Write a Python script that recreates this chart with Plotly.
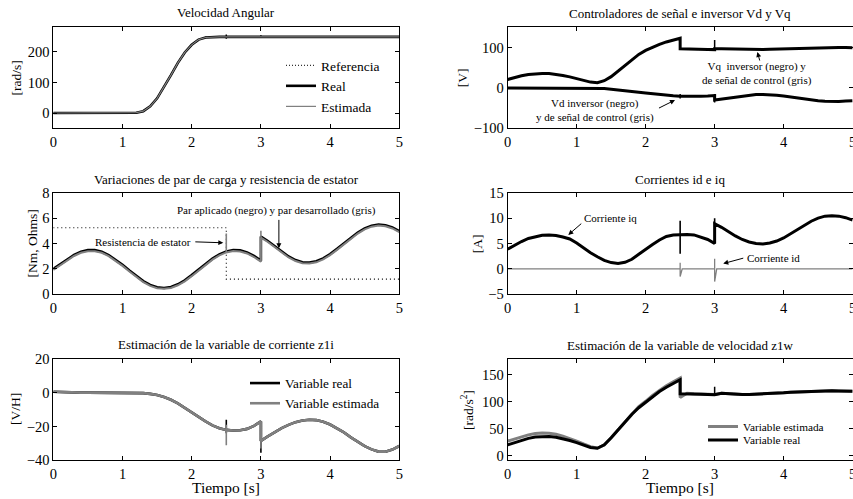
import plotly.graph_objects as go

W, H = 853, 499
FONT = "Liberation Serif"

# ---------------- data ----------------
t_base = [0.0, 0.1, 0.2, 0.3, 0.4, 0.5, 0.6, 0.7, 0.8, 0.9, 1.0, 1.1, 1.2, 1.3, 1.4, 1.5, 1.6,
          1.7, 1.8, 1.9, 2.0, 2.1, 2.2, 2.3, 2.4, 2.5, 2.6, 2.7, 2.8, 2.9, 3.0, 3.1, 3.2, 3.3,
          3.4, 3.5, 3.6, 3.7, 3.8, 3.9, 4.0, 4.1, 4.2, 4.3, 4.4, 4.5, 4.6, 4.7, 4.8, 4.9, 5.0]
# time axis with a jump at t = 3.0
t_j3 = [0.0, 0.1, 0.2, 0.3, 0.4, 0.5, 0.6, 0.7, 0.8, 0.9, 1.0, 1.1, 1.2, 1.3, 1.4, 1.5, 1.6,
        1.7, 1.8, 1.9, 2.0, 2.1, 2.2, 2.3, 2.4, 2.5, 2.6, 2.7, 2.8, 2.9, 3.0, 3.0, 3.1, 3.2, 3.3,
        3.4, 3.5, 3.6, 3.7, 3.8, 3.9, 4.0, 4.1, 4.2, 4.3, 4.4, 4.5, 4.6, 4.7, 4.8, 4.9, 5.0]
# time axis with a jump at t = 2.5
t_j25 = [0.0, 0.1, 0.2, 0.3, 0.4, 0.5, 0.6, 0.7, 0.8, 0.9, 1.0, 1.1, 1.2, 1.3, 1.4, 1.5, 1.6,
         1.7, 1.8, 1.9, 2.0, 2.1, 2.2, 2.3, 2.4, 2.5, 2.5, 2.6, 2.7, 2.8, 2.9, 3.0, 3.1, 3.2, 3.3,
         3.4, 3.5, 3.6, 3.7, 3.8, 3.9, 4.0, 4.1, 4.2, 4.3, 4.4, 4.5, 4.6, 4.7, 4.8, 4.9, 5.0]
# time axis with jumps at t = 2.5 and t = 3.0
t_j25_3 = [0.0, 0.1, 0.2, 0.3, 0.4, 0.5, 0.6, 0.7, 0.8, 0.9, 1.0, 1.1, 1.2, 1.3, 1.4, 1.5, 1.6,
           1.7, 1.8, 1.9, 2.0, 2.1, 2.2, 2.3, 2.4, 2.5, 2.5, 2.6, 2.7, 2.8, 2.9, 3.0, 3.0, 3.1, 3.2,
           3.3, 3.4, 3.5, 3.6, 3.7, 3.8, 3.9, 4.0, 4.1, 4.2, 4.3, 4.4, 4.5, 4.6, 4.7, 4.8, 4.9, 5.0]

# Panel 1: Velocidad Angular [rad/s]
vel_ref = [0, 0, 0, 0, 0, 0, 0, 0, 0, 0, 0, 0, 1, 6, 22, 48, 84, 124, 164, 198, 223, 240, 248,
           250, 250, 250, 250, 250, 250, 250, 250, 250, 250, 250, 250, 250, 250, 250, 250, 250,
           250, 250, 250, 250, 250, 250, 250, 250, 250, 250, 250]
vel_real = [0, 0, 0, 0, 0, 0, 0, 0, 0, 0, 0, 0, 1, 6, 22, 48, 84, 124, 164, 198, 223, 240, 247,
            249, 249, 249, 249, 249, 249, 249, 249, 249, 249, 249, 249, 249, 249, 249, 249, 249,
            249, 249, 249, 249, 249, 249, 249, 249, 249, 249, 249]
vel_est = vel_real
vel_spk_t = [2.5, 2.5, None, 3.0, 3.0]
vel_spk_y = [243, 257, None, 245, 254]

# Panel 2 (right): Vd, Vq [V]
vq = [21, 26, 30, 33.5, 35.5, 36, 35.5, 33.5, 31, 27.5, 23.5, 19, 14.5, 13, 18, 28, 42, 57, 71,
      83, 93, 101, 108, 114, 119, 123, 97, 97, 96.5, 96, 95.5, 95, 97, 97, 96.5, 96, 95.5, 95,
      95, 95.5, 96, 96.5, 97, 98, 99, 99.5, 100, 100.5, 101, 101, 100.5, 100, 99.5]
vq_spk_t = [3.0, 3.0]
vq_spk_y = [95, 119]
vd = [0, 0, 0, 0, 0, 0, 0, 0, 0, 0, 0, 0, 0, -0.5, -1.5, -3, -4.5, -6.5, -8.5, -10.5, -12.5,
      -14.5, -16.5, -18, -19.5, -20.5, -21, -21, -20.5, -20, -19, -30, -27.5, -25, -22.5, -20,
      -18, -16.5, -16, -16.5, -18, -20, -22.5, -25, -27.5, -30, -32, -33, -33.5, -33.5, -32.5,
      -31.5]
vd_spk_t = [2.5, 2.5, None, 3.0, 3.0]
vd_spk_y = [-26, -15, None, -15, -36]

# Panel 3 (left): par de carga / resistencia [Nm, Ohms]
par_aplicado = [2.0, 2.35, 2.75, 3.1, 3.35, 3.48, 3.48, 3.35, 3.09, 2.74, 2.32, 1.87, 1.43, 1.04,
                0.74, 0.56, 0.5, 0.58, 0.79, 1.1, 1.51, 1.95, 2.4, 2.81, 3.15, 3.38, 3.49, 3.46,
                3.3, 3.02, 2.65, 4.55, 4.2, 3.78, 3.35, 2.98, 2.7, 2.53, 2.5, 2.6, 2.83, 3.17,
                3.58, 4.02, 4.46, 4.87, 5.2, 5.41, 5.5, 5.44, 5.27, 4.98]
par_desarrollado = [1.92, 2.27, 2.67, 3.02, 3.27, 3.4, 3.4, 3.27, 3.01, 2.66, 2.24, 1.79, 1.35,
                    0.96, 0.66, 0.48, 0.44, 0.5, 0.71, 1.02, 1.43, 1.87, 2.32, 2.73, 3.07, 3.3,
                    3.41, 3.38, 3.22, 2.94, 2.57, 4.47, 4.12, 3.7, 3.27, 2.9, 2.62, 2.45, 2.42,
                    2.52, 2.75, 3.09, 3.5, 3.94, 4.38, 4.79, 5.12, 5.33, 5.42, 5.36, 5.19, 4.9]
par_spk_t = [2.5, 2.5, None, 3.0, 3.0]
par_spk_y = [3.3, 4.8, None, 4.5, 5.0]
res_t = [0.0, 2.5, 2.5, 5.0]
res_estator = [5.25, 5.25, 1.2, 1.2]

# Panel 4 (right): corrientes id, iq [A]
iq = [3.9, 4.7, 5.4, 6.0, 6.4, 6.65, 6.7, 6.6, 6.3, 5.9, 5.1, 4.1, 3.2, 2.4, 1.7, 1.25, 1.05,
      1.3, 1.9, 2.9, 3.9, 4.8, 5.7, 6.4, 6.7, 6.8, 6.8, 6.7, 6.3, 5.8, 5.0, 8.9, 8.2, 7.3, 6.5,
      5.8, 5.3, 5.0, 4.9, 5.1, 5.5, 6.1, 6.9, 7.7, 8.6, 9.4, 10.0, 10.4, 10.5, 10.4, 10.1, 9.6]
iq_spk_t = [2.5, 2.5, None, 3.0, 3.0]
iq_spk_y = [3.0, 9.5, None, 8.9, 10.0]
id_t = [0.0, 2.5, 2.5, 2.5, 2.53, 3.0, 3.0, 3.0, 3.03, 5.0]
id_ = [0.0, 0.0, 1.2, -1.5, 0.0, 0.0, 2.0, -2.5, 0.0, 0.0]

# Panel 5 (left): z1i [V/H]
z1i_real = [0.5, 0.3, 0.2, 0.1, 0, 0, 0, 0, 0, 0, 0, 0, 0, -0.3, -0.7, -1.4, -2.6, -4.2, -6.3,
            -8.8, -11.5, -14.3, -17.0, -19.3, -21.0, -22.0, -22.3, -22.2, -21.4, -19.6, -17.0,
            -28.5, -25.8, -23.2, -20.9, -19.0, -17.4, -16.4, -16.0, -16.2, -17.2, -18.8, -21.0,
            -23.5, -26.4, -29.1, -31.6, -33.5, -34.8, -34.9, -33.6, -31.5]
z1i_est = z1i_real
z1i_real_spk_t = [2.5, 2.5, None, 3.0, 3.0]
z1i_real_spk_y = [-16, -24, None, -28, -35.5]
z1i_est_spk_t = [2.5, 2.5, None, 3.0, 3.0]
z1i_est_spk_y = [-19, -31, None, -28, -33]

# Panel 6 (right): z1w [rad/s^2]
z1w_real = [20, 24, 28.5, 32, 34.5, 35.5, 35.5, 34, 31.5, 28, 24, 19.5, 15, 13.5, 20, 33, 48,
            62, 77, 89, 99, 110, 119, 127, 134, 141, 115, 115, 114.5, 114, 113.5, 113, 116, 115,
            114, 113.5, 113.5, 114, 114.5, 115.5, 116.5, 117, 118, 118.5, 119, 119.5, 120, 120,
            120.5, 120, 120, 119.5]
z1w_est = [27, 31, 35, 38.5, 41, 42, 41.5, 39.5, 36, 32, 27, 21.5, 16.5, 14, 19.5, 33, 48, 63,
           78, 91, 101, 112, 121, 130, 137, 144, 108, 116, 115, 114.5, 114, 113.5, 116, 115, 114,
           113.5, 113.5, 114, 114.5, 115.5, 116.5, 117, 118, 118.5, 119, 119.5, 120, 120, 120.5,
           120, 120, 119.5]
z1w_spk_t = [3.0, 3.0]
z1w_spk_y = [112, 128]

# ---------------- layout helpers ----------------
def px(x):
    return x / W


def py(y):
    return 1 - y / H


XL = [px(53.3), px(399.3)]
XR = [px(507.7), px(852.6)]
YR1 = [py(128.3), py(27.4)]
YR2 = [py(294.3), py(192.8)]
YR3 = [py(460.4), py(358.8)]

BLACK = "#000000"
GREY = "#808080"

fig = go.Figure()


def line(x, y, ax, color, width, name=None, dash="solid", legend=None, show=False):
    fig.add_trace(go.Scatter(
        x=x, y=y, mode="lines", name=name, showlegend=show,
        legend=legend, xaxis="x" + ax, yaxis="y" + ax,
        line=dict(color=color, width=width, dash=dash), hoverinfo="skip"))


# Panel 1 (axes "")
line(t_base, vel_ref, "", "#333333", 1.2, "Referencia", "1px,2px", "legend", True)
line(t_base, vel_real, "", BLACK, 2.6, "Real", legend="legend", show=True)
line(vel_spk_t, vel_spk_y, "", BLACK, 1.5)
line(t_base, vel_est, "", GREY, 1.2, "Estimada", legend="legend", show=True)

# Panel 2 (axes "2")
line(t_j25_3, vq, "2", BLACK, 3)
line(vq_spk_t, vq_spk_y, "2", BLACK, 1.5)
line(t_j3, vd, "2", BLACK, 3)
line(vd_spk_t, vd_spk_y, "2", BLACK, 1.5)

# Panel 3 (axes "3")
line(res_t, res_estator, "3", BLACK, 1.1, dash="1px,3px")
line(t_j3, par_aplicado, "3", BLACK, 2.6)
line(t_j3, par_desarrollado, "3", GREY, 2)
line(par_spk_t, par_spk_y, "3", GREY, 1.6)

# Panel 4 (axes "4")
line(id_t, id_, "4", GREY, 1.3)
line(t_j3, iq, "4", BLACK, 3)
line(iq_spk_t, iq_spk_y, "4", BLACK, 1.6)

# Panel 5 (axes "5")
line(t_j3, z1i_real, "5", BLACK, 2.6, "Variable real", legend="legend2", show=True)
line(z1i_real_spk_t, z1i_real_spk_y, "5", BLACK, 1.6)
line(t_j3, z1i_est, "5", GREY, 2.6, "Variable estimada", legend="legend2", show=True)
line(z1i_est_spk_t, z1i_est_spk_y, "5", GREY, 1.6)

# Panel 6 (axes "6")
line(t_j25, z1w_est, "6", GREY, 3, "Variable estimada", legend="legend3", show=True)
line(t_j25, z1w_real, "6", BLACK, 3, "Variable real", legend="legend4", show=True)
line(z1w_spk_t, z1w_spk_y, "6", BLACK, 1.5)

axis_common = dict(
    showline=True, linecolor=BLACK, linewidth=1, mirror="ticks", ticks="inside",
    ticklen=4, tickwidth=1, tickcolor=BLACK, showgrid=False, zeroline=False,
    tickfont=dict(family=FONT, size=14.5, color=BLACK), fixedrange=True,
    automargin=False,
)

panels = [
    ("", XL, YR1, [-50, 280], [0, 100, 200]),
    ("2", XR, YR1, [-100, 150], [-100, 0, 100]),
    ("3", XL, YR2, [0, 8], [0, 2, 4, 6, 8]),
    ("4", XR, YR2, [-5, 15], [-5, 0, 5, 10, 15]),
    ("5", XL, YR3, [-40, 20], [-40, -20, 0, 20]),
    ("6", XR, YR3, [-9, 180], [0, 50, 100, 150]),
]
layout = dict(
    width=W, height=H, margin=dict(l=0, r=0, t=0, b=0, pad=0, autoexpand=False),
    paper_bgcolor="white", plot_bgcolor="white", showlegend=True,
    font=dict(family=FONT, color=BLACK),
)
for ax, xd, yd, yr, yt in panels:
    layout["xaxis" + ax] = dict(axis_common, domain=xd, range=[0, 5],
                                tickvals=[0, 1, 2, 3, 4, 5], anchor="y" + ax,
                                ticklabeloverflow="allow")
    layout["yaxis" + ax] = dict(axis_common, domain=yd, range=yr, tickvals=yt,
                                anchor="x" + ax)

leg_common = dict(bgcolor="rgba(0,0,0,0)", borderwidth=0, xanchor="left",
                  yanchor="top", tracegroupgap=0)
layout["legend"] = dict(leg_common, x=px(281), y=py(50),
                        font=dict(family=FONT, size=13.5, color=BLACK))
layout["legend2"] = dict(leg_common, x=px(245), y=py(368),
                         font=dict(family=FONT, size=13.2, color=BLACK))
layout["legend3"] = dict(leg_common, x=px(703), y=py(412),
                         font=dict(family=FONT, size=11.3, color=BLACK))
layout["legend4"] = dict(leg_common, x=px(703), y=py(425.5),
                         font=dict(family=FONT, size=11.3, color=BLACK))

ann = []


def text(x, y, s, size, xanchor="center", angle=0):
    ann.append(dict(x=px(x), y=py(y), xref="paper", yref="paper", text=s,
                    showarrow=False, xanchor=xanchor, yanchor="middle",
                    textangle=angle, font=dict(family=FONT, size=size, color=BLACK)))


def arrow(ax_id, x, y, dx, dy):
    ann.append(dict(x=x, y=y, xref="x" + ax_id, yref="y" + ax_id, text=" ",
                    showarrow=True, arrowhead=2, arrowsize=1, arrowwidth=1,
                    arrowcolor=BLACK, ax=dx, ay=dy, standoff=0,
                    font=dict(family=FONT, size=2, color=BLACK)))


# titles
text(226.3, 12.5, "Velocidad Angular", 13)
text(680.2, 13, "Controladores de señal e inversor Vd y Vq", 13)
text(226.3, 179, "Variaciones de par de carga y resistencia de estator", 13)
text(680.2, 179, "Corrientes id e iq", 13)
text(226.3, 344.5, "Estimación de la variable de corriente z1i", 13)
text(680.2, 345, "Estimación de la variable de velocidad z1w", 13)

# x-axis labels
text(226.3, 487.5, "Tiempo [s]", 15.5)
text(680.2, 487.5, "Tiempo [s]", 15.5)

# y-axis labels
text(16.5, 78, "[rad/s]", 13.5, angle=-90)
text(32, 243.5, "[Nm, Ohms]", 13.5, angle=-90)
text(15.5, 409.6, "[V/H]", 13.5, angle=-90)
text(463.3, 78, "[V]", 13.5, angle=-90)
text(477.7, 243.5, "[A]", 13.5, angle=-90)
text(467.5, 409.6, "[rad/s<sup>2</sup>]", 13.5, angle=-90)

# in-plot notes
text(757, 73.5, "Vq  inversor (negro) y<br>de señal de control (gris)", 11)
arrow("2", 3.62, 89, 3, 11)
text(595, 110.7, "Vd inversor (negro)<br>y de señal de control (gris)", 11)
arrow("2", 2.425, -30, -18, 9)
text(276.7, 210, "Par aplicado (negro) y par desarrollado (gris)", 11)
arrow("3", 3.26, 3.62, 0, -31)
text(192.5, 241.7, "Resistencia de estator", 11, xanchor="right")
arrow("3", 2.457, 4.06, -30, -1)
text(610, 218.3, "Corriente iq", 11)
arrow("4", 0.878, 6.7, 15, -13)
text(745, 258.3, "Corriente id", 11, xanchor="left")
arrow("4", 3.125, 1.05, 22, -6)

layout["annotations"] = ann
fig.update_layout(**layout)
fig.write_html("out.html", config={"displayModeBar": False},
               post_script="document.body.style.margin='0';document.body.style.overflow='hidden';")
